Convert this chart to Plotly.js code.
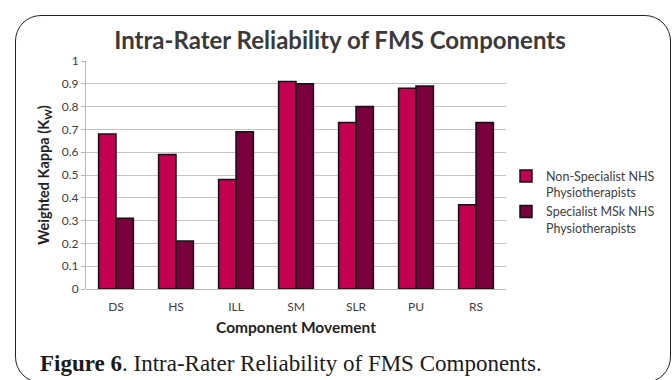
<!DOCTYPE html>
<html>
<head>
<meta charset="utf-8">
<script src="https://cdn.plot.ly/plotly-3.0.1.min.js"></script>
<style>
  html, body { margin: 0; padding: 0; background: #ffffff; }
  #wrap { position: relative; width: 672px; height: 380px; overflow: hidden; }
  #frame { position: absolute; left: 15px; top: 15px; width: 656px; height: 368px;
           border: 1.5px solid #222; border-radius: 26px; box-sizing: border-box; }
  #chart { position: absolute; left: 0; top: 0; width: 672px; height: 380px; }
</style>
</head>
<body>
<div id="wrap">
  <div id="frame"></div>
  <div id="chart"></div>
</div>
<script>
const categories = ["DS", "HS", "ILL", "SM", "SLR", "PU", "RS"];
const seriesNames = ["Non-Specialist NHS<br>Physiotherapists", "Specialist MSk NHS<br>Physiotherapists"];
const nonSpecialist = [0.68, 0.59, 0.48, 0.91, 0.73, 0.88, 0.37];
const specialist = [0.31, 0.21, 0.69, 0.90, 0.80, 0.89, 0.73];
const colors = ["#C2004F", "#7A003C"];

const traces = [
  { type: "bar", x: categories, y: nonSpecialist, name: seriesNames[0],
    marker: { color: colors[0], line: { color: "#111", width: 1.5 } } },
  { type: "bar", x: categories, y: specialist, name: seriesNames[1],
    marker: { color: colors[1], line: { color: "#111", width: 1.5 } } }
];

const layout = {
  width: 672, height: 380,
  margin: { l: 86, r: 166, t: 61, b: 91, autoexpand: false },
  paper_bgcolor: "rgba(0,0,0,0)",
  plot_bgcolor: "rgba(0,0,0,0)",
  barmode: "group",
  bargap: 0.42,
  bargroupgap: 0,
  font: { family: "Lato, 'Open Sans', sans-serif", color: "#404040" },
  title: {
    text: "<b>Intra-Rater Reliability of FMS Components</b>",
    font: { size: 24, color: "#3a3a3a", family: "Lato, sans-serif" },
    x: 0.506, xref: "container", xanchor: "center",
    y: 0.892, yref: "container", yanchor: "middle"
  },
  xaxis: {
    type: "category",
    tickfont: { size: 12, color: "#404040" },
    ticks: "outside", ticklen: 7, tickcolor: "rgba(0,0,0,0)",
    showline: false, showgrid: false,
    title: { text: "<b>Component Movement</b>", font: { size: 15.5, color: "#222" }, standoff: 8 }
  },
  yaxis: {
    range: [0, 1],
    dtick: 0.1,
    tick0: 0,
    tickfont: { size: 12, color: "#404040" },
    showgrid: true, gridcolor: "#c4c4c4", gridwidth: 1,
    zeroline: true, zerolinecolor: "#b8b8b8", zerolinewidth: 1,
    showline: true, linecolor: "#b8b8b8", linewidth: 1,
    ticks: "outside", ticklen: 4, tickcolor: "#b8b8b8",
    title: { text: "<b>Weighted Kappa (K<sub>W</sub>)</b>", font: { size: 14.5, color: "#222" }, standoff: 8 }
  },
  legend: {
    x: 1.0, xanchor: "left",
    y: 0.56, yanchor: "top",
    valign: "top",
    font: { size: 12.5, color: "#404040" },
    tracegroupgap: 16,
    bgcolor: "rgba(0,0,0,0)"
  },
  annotations: [
    {
      xref: "paper", yref: "paper",
      x: -0.114, y: -0.325, xanchor: "left", yanchor: "middle",
      showarrow: false,
      text: "<b>Figure 6</b>. Intra-Rater Reliability of FMS Components.",
      font: { family: "'Liberation Serif', 'DejaVu Serif', serif", size: 23, color: "#1a1a1a" }
    }
  ]
};

Plotly.newPlot("chart", traces, layout, { displayModeBar: false, staticPlot: true });
</script>
</body>
</html>
